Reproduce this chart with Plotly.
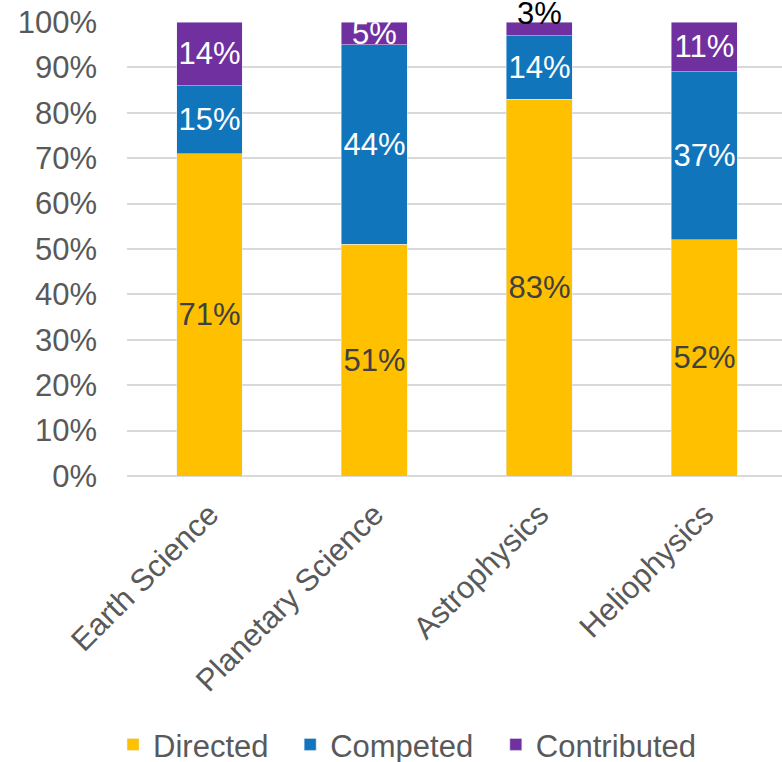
import plotly.graph_objects as go

categories = ["Earth Science", "Planetary Science", "Astrophysics", "Heliophysics"]
directed = [71, 51, 83, 52]
competed = [15, 44, 14, 37]
contributed = [14, 5, 3, 11]
y_ticks = list(range(0, 101, 10))
y_tick_labels = [f"{v}%" for v in y_ticks]

FONT = "Liberation Sans, Arial, sans-serif"
FS = 31
# label shown above the bar instead of inside it (too thin)
outside_idx = 2

fig = go.Figure()
fig.add_trace(go.Bar(
    name="Directed", x=categories, y=directed, legend="legend",
    text=[f"{v}%" for v in directed], textposition="inside", textangle=0,
    insidetextanchor="middle", constraintext="none",
    textfont=dict(color="#404040", size=FS, family=FONT),
    marker_color="#FFC000", width=0.4))
fig.add_trace(go.Bar(
    name="Competed", x=categories, y=competed, legend="legend2",
    text=[f"{v}%" for v in competed], textposition="inside", textangle=0,
    insidetextanchor="middle", constraintext="none",
    textfont=dict(color="white", size=FS, family=FONT),
    marker_color="#1175BC", width=0.4))
fig.add_trace(go.Bar(
    name="Contributed", x=categories, y=contributed, legend="legend3",
    text=["" if i == outside_idx else f"{v}%" for i, v in enumerate(contributed)],
    textposition="inside", textangle=0,
    insidetextanchor="middle", constraintext="none",
    textfont=dict(color="white", size=FS, family=FONT),
    marker_color="#7030A0", width=0.4))

top_total = directed[outside_idx] + competed[outside_idx] + contributed[outside_idx]
fig.add_annotation(x=categories[outside_idx], y=top_total, text=f"{contributed[outside_idx]}%",
                   showarrow=False, yanchor="middle", yshift=9,
                   font=dict(size=FS, color="black", family=FONT))

leg = dict(orientation="h", yanchor="middle", y=-0.592, xanchor="left",
           font=dict(size=FS, color="#595959", family=FONT), itemwidth=30,
           bgcolor="rgba(0,0,0,0)", bordercolor="rgba(0,0,0,0)", borderwidth=4)
fig.update_layout(
    barmode="stack",
    width=782, height=762,
    margin=dict(l=127, r=0, t=22, b=286, autoexpand=False),
    paper_bgcolor="white", plot_bgcolor="white",
    font=dict(family=FONT, size=FS, color="#595959"),
    showlegend=True,
    legend=dict(leg, x=-0.0274),
    legend2=dict(leg, x=0.243),
    legend3=dict(leg, x=0.557),
    xaxis=dict(range=[-0.5, 3.47], tickangle=-45, showgrid=False, showline=False,
               ticks="", automargin=False, ticklabelstandoff=13,
               tickfont=dict(size=FS, color="#595959")),
    yaxis=dict(range=[0, 100], tickvals=y_ticks, ticktext=y_tick_labels, showgrid=True,
               gridcolor="#D9D9D9", gridwidth=1.5, zeroline=True, zerolinecolor="#D9D9D9",
               zerolinewidth=1.5, showline=False, ticks="", automargin=False,
               ticklabelstandoff=29,
               tickfont=dict(size=FS, color="#595959")),
)
fig.write_html("out.html", config={"displayModeBar": False},
               post_script="document.body.style.margin='0';")
